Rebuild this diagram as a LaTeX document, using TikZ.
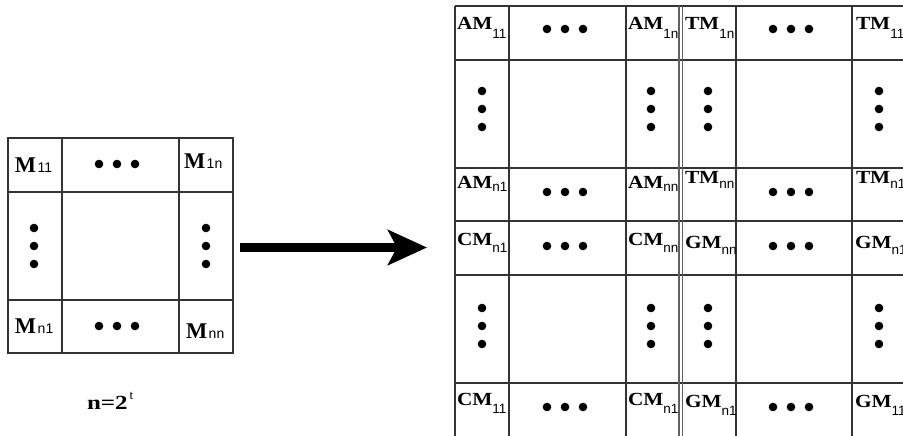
\documentclass[tikz,border=0pt]{standalone}
\usepackage{fontspec}
\setmainfont{Liberation Serif}
\setsansfont{Liberation Sans}
\usetikzlibrary{arrows.meta}
\newcommand{\gl}[3]{\scalebox{1.15}[1]{\fontsize{18.5}{18}\selectfont\bfseries #1}\raisebox{-#3pt}{\fontsize{13.5}{14}\selectfont\sffamily #2}}
\newcommand{\ml}[2]{{\fontsize{22.5}{22}\selectfont\bfseries #1}\hspace{1.5pt}{\fontsize{14}{14}\selectfont\sffamily #2}}
\begin{document}
\begin{tikzpicture}[x=1pt,y=-1pt,
  gridline/.style={draw=black!80,line width=1.2pt},
  dblline/.style={draw=black!62,line width=1.5pt},
  lab/.style={anchor=base west,inner sep=0pt,outer sep=0pt},
  dotf/.style={fill=black}]
\useasboundingbox (0,0) rectangle (903,436);
\clip (0,0) rectangle (903,436);
% ---------- left matrix ----------
\draw[gridline] (8,138) rectangle (233,353);
\draw[gridline] (62,138) -- (62,353) (179,138) -- (179,353);
\draw[gridline] (8,192) -- (233,192) (8,300) -- (233,300);
\node[lab] (m11) at (15,172) {\ml{M}{11}};
\node[lab] (m1n) at (184,168) {\ml{M}{1n}};
\node[lab] (mn1) at (15,333) {\ml{M}{n1}};
\node[lab] (mnn) at (186,338) {\ml{M}{nn}};
\foreach \x in {99,117,135}{\fill[dotf] (\x,164) circle[radius=4.3]; \fill[dotf] (\x,326) circle[radius=4.3];}
\foreach \y in {228,246,264}{\fill[dotf] (34,\y) circle[radius=4.3]; \fill[dotf] (206,\y) circle[radius=4.3];}
\node[lab] (eq) at (87,409) {\scalebox{1.25}[1]{\fontsize{20}{20}\selectfont\bfseries n=2}\hspace{2pt}\raisebox{10pt}{\fontsize{13}{13}\selectfont t}};
% ---------- arrow ----------
\coordinate (aS) at (240,247.5);
\coordinate (aE) at (427,247.5);
\draw[line width=9pt,-{Stealth[length=39pt,width=35pt,inset=9pt]}] (aS) -- (aE);
% ---------- right grid ----------
\foreach \y in {6,60,168,221,275,383}{\draw[gridline] (455,\y) -- (910,\y);}
\foreach \x in {455,509,626,736,852}{\draw[gridline] (\x,6) -- (\x,440);}
\draw[dblline] (679.2,6) -- (679.2,440) (682.4,6) -- (682.4,440);
% labels
\node[lab] (am11) at (457,30) {\gl{AM}{11}{9}};
\node[lab] (am1n) at (628,30) {\gl{AM}{1n}{9}};
\node[lab] (tm1n) at (685,30) {\gl{TM}{1n}{9}};
\node[lab] (tm11) at (856,30) {\gl{TM}{11}{9}};
\node[lab] (amn1) at (457,188) {\gl{AM}{n1}{3}};
\node[lab] (amnn) at (628,188) {\gl{AM}{nn}{3}};
\node[lab] (tmnn) at (685,183) {\gl{TM}{nn}{5}};
\node[lab] (tmn1) at (856,183) {\gl{TM}{n1}{5}};
\node[lab] (cmn1) at (457,245) {\gl{CM}{n1}{7}};
\node[lab] (cmnn) at (628,245) {\gl{CM}{nn}{7}};
\node[lab] (gmnn) at (685,248) {\gl{GM}{nn}{6}};
\node[lab] (gmn1) at (855,248) {\gl{GM}{n1}{6}};
\node[lab] (cm11) at (457,405) {\gl{CM}{11}{8}};
\node[lab] (cmn1b) at (628,405) {\gl{CM}{n1}{8}};
\node[lab] (gmn1b) at (685,407) {\gl{GM}{n1}{8}};
\node[lab] (gm11) at (855,407) {\gl{GM}{11}{8}};
% horizontal dots
\foreach \y in {29,192,246,407}{
  \foreach \x in {547,565,583}{\fill[dotf] (\x,\y) circle[radius=4.3];}
  \foreach \x in {773,791,809}{\fill[dotf] (\x,\y) circle[radius=4.3];}
}
% vertical dots
\foreach \y in {91,109,127,308,326,344}{
  \foreach \x in {482,651,708,879}{\fill[dotf] (\x,\y) circle[radius=4.3];}
}
\end{tikzpicture}
\end{document}
